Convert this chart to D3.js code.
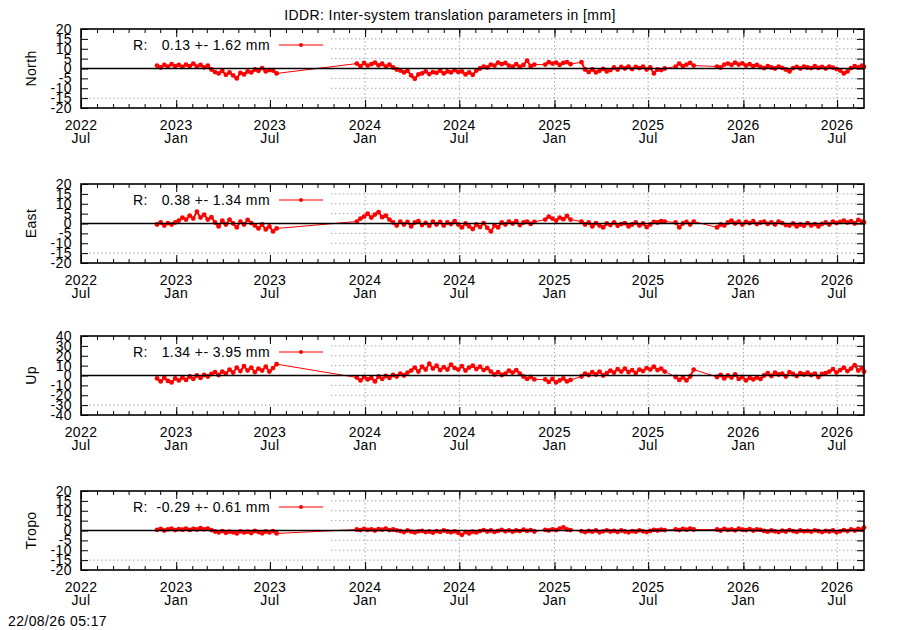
<!DOCTYPE html>
<html>
<head>
<meta charset="utf-8">
<script src="https://cdn.jsdelivr.net/npm/d3@7"></script>
<style>
body{margin:0;background:#fff}
svg{display:block;font-family:"Liberation Sans",Arial,sans-serif}
.tick text{font-size:14px;fill:#000;letter-spacing:0.4px;font-family:"Liberation Sans",Arial,sans-serif}
.tick line{stroke:#000;stroke-width:1}
.lbl{font-size:14px;fill:#000;letter-spacing:0.4px}
.grid{stroke:#a8a8a8;stroke-width:1;stroke-dasharray:1.5,2.5}
</style>
</head>
<body>
<svg width="900" height="630"></svg>
<script>
/* ----------------------------------------------------------
data
---------------------------------------------------------- */
var xStart = "2022-07-01", xEnd = "2026-08-22";
var panelNames = ["North","East","Up","Tropo"];
var yLimits = [20,20,40,20];
var ySteps = [5,5,10,5];
var means = [0.13,0.38,1.34,-0.29];
var sigmas = [1.62,1.34,3.95,0.61];
var titleText = "IDDR: Inter-system translation parameters in [mm]";
var stampText = "22/08/26 05:17";

var dates = [
	"2022-11-25","2022-12-02","2022-12-09","2022-12-16","2022-12-23","2022-12-30",
	"2023-01-06","2023-01-13","2023-01-20","2023-01-27","2023-02-03","2023-02-10","2023-02-17","2023-02-24",
	"2023-03-03","2023-03-10","2023-03-17","2023-03-24","2023-03-31","2023-04-07","2023-04-14","2023-04-21","2023-04-28",
	"2023-05-05","2023-05-12","2023-05-19","2023-05-26","2023-06-02","2023-06-09","2023-06-16","2023-06-23","2023-06-30",
	"2023-07-07","2023-07-14",
	"2023-12-16","2023-12-23","2023-12-30",
	"2024-01-06","2024-01-13","2024-01-20","2024-01-27","2024-02-03","2024-02-10","2024-02-17","2024-02-24",
	"2024-03-02","2024-03-09","2024-03-16","2024-03-23","2024-03-30","2024-04-06","2024-04-13","2024-04-20","2024-04-27",
	"2024-05-04","2024-05-11","2024-05-18","2024-05-25","2024-06-01","2024-06-08","2024-06-15","2024-06-22","2024-06-29",
	"2024-07-06","2024-07-13","2024-07-20","2024-07-27","2024-08-03","2024-08-10","2024-08-17","2024-08-24","2024-08-31",
	"2024-09-07","2024-09-14","2024-09-21","2024-09-28","2024-10-05","2024-10-12","2024-10-19","2024-10-26",
	"2024-11-02","2024-11-09","2024-11-16","2024-11-23","2024-12-14","2024-12-21","2024-12-28",
	"2025-01-04","2025-01-11","2025-01-18","2025-01-25","2025-02-01","2025-02-22",
	"2025-03-01","2025-03-08","2025-03-15","2025-03-22","2025-03-29","2025-04-05","2025-04-12","2025-04-19","2025-04-26",
	"2025-05-03","2025-05-10","2025-05-17","2025-05-24","2025-05-31","2025-06-07","2025-06-14","2025-06-21","2025-06-28",
	"2025-07-05","2025-07-12","2025-07-19","2025-07-26","2025-08-02",
	"2025-08-23","2025-08-30","2025-09-06","2025-09-13","2025-09-20","2025-09-27",
	"2025-11-11","2025-11-18","2025-11-25","2025-12-02","2025-12-09","2025-12-16","2025-12-23","2025-12-30",
	"2026-01-06","2026-01-13","2026-01-20","2026-01-27","2026-02-03","2026-02-10","2026-02-17","2026-02-24",
	"2026-03-03","2026-03-10","2026-03-17","2026-03-24","2026-03-31","2026-04-07","2026-04-14","2026-04-21","2026-04-28",
	"2026-05-05","2026-05-12","2026-05-19","2026-05-26","2026-06-02","2026-06-09","2026-06-16","2026-06-23","2026-06-30",
	"2026-07-07","2026-07-14","2026-07-21","2026-07-28","2026-08-04","2026-08-11","2026-08-18","2026-08-22"
];

var north = [
	1.5,0.5,1.8,1.0,2.2,1.2,1.8,0.8,2.0,1.2,2.5,1.0,1.8,0.6,1.5,-0.5,-1.8,-2.5,-1.2,-3.2,
	-2.0,-3.5,-5.0,-2.2,-3.0,-1.5,-2.0,-0.5,-1.2,0.2,-1.5,-0.8,-1.0,-2.5,
	2.5,1.2,2.8,1.5,2.2,3.0,1.6,2.4,1.0,2.0,
	0.5,-0.5,-1.0,-2.0,-1.2,-3.5,-5.2,-3.0,
	-2.5,-1.5,-2.8,-1.8,-2.2,-1.0,-2.5,-1.5,-2.0,-0.8,-1.8,
	-1.5,-3.0,-2.0,-3.2,-1.0,
	0.0,1.0,0.5,2.0,1.5,3.0,2.2,2.8,1.5,
	1.0,2.2,0.8,1.8,4.0,1.2,2.0,
	2.0,3.2,2.5,3.0,1.8,2.8,3.2,2.2,3.2,
	-0.5,-1.8,-0.5,-2.0,-1.2,-0.2,-1.5,-0.8,
	0.5,-0.5,0.8,0.0,1.0,-0.3,0.8,0.2,1.0,-0.5,0.5,-2.5,-0.5,-0.8,0.0,
	1.0,2.5,1.2,2.0,2.8,1.5,
	1.0,0.5,2.0,2.5,1.8,3.0,2.0,2.6,1.5,2.2,1.2,1.8,
	0.8,0.2,1.2,0.5,0.0,1.0,0.3,-0.5,-1.5,0.2,0.8,0.0,1.0,0.5,0.2,1.2,0.3,0.8,0.0,1.0,0.4,-0.3,
	-1.0,-2.5,-1.5,0.2,1.2,0.5,1.5,0.8
];

var east = [
	-0.5,0.5,-1.0,0.2,-0.5,0.5,1.5,3.0,2.0,4.0,2.5,6.0,3.0,4.5,2.0,3.2,
	0.5,-1.5,1.5,-0.5,2.0,0.0,-2.0,1.0,-0.5,1.8,0.2,-1.0,-2.5,-0.5,-3.0,-1.5,-4.0,-2.5,
	1.0,2.5,3.5,5.0,3.0,4.5,5.8,3.2,4.0,2.0,
	0.5,-1.0,1.0,-0.5,0.8,-1.5,0.5,1.2,-0.8,0.3,-1.2,1.0,-0.5,0.8,-1.0,0.5,-0.3,1.2,
	-0.5,-2.0,0.0,-1.5,-2.8,-0.5,-1.8,0.2,-2.2,-4.0,-1.0,-2.0,
	0.5,-0.5,1.0,0.0,1.2,-0.8,0.5,1.0,-0.2,0.8,
	2.0,3.5,2.5,1.5,3.0,2.2,3.8,2.0,1.0,
	-0.5,0.5,-1.5,0.2,-1.0,-2.0,0.0,-0.8,0.5,-1.2,-0.3,0.2,-1.5,-0.5,0.5,-1.0,0.0,-1.8,-0.5,0.8,0.5,
	1.2,1.0,
	0.5,-2.0,0.0,0.8,-0.5,1.0,
	-2.0,-0.5,-1.0,
	0.5,1.5,0.0,1.0,-0.5,0.8,0.2,1.2,-0.3,0.5,1.0,-0.2,0.6,-0.5,1.0,0.2,-0.8,
	-1.0,0.0,-1.5,-0.5,-1.2,0.2,-1.0,-0.3,-1.5,-0.2,
	0.5,-0.5,1.0,0.2,0.8,1.5,0.5,1.2,0.0,1.8,1.0,0.5
];

var up = [
	-3.0,-6.0,-2.5,-5.5,-7.0,-3.0,-5.0,-2.0,-4.5,-1.0,-3.5,0.0,-2.5,0.5,-1.0,
	1.5,3.5,0.5,4.0,2.0,6.0,3.0,8.0,4.5,9.5,5.0,8.0,3.5,7.0,5.0,9.0,4.0,7.5,11.5,
	-2.0,-5.0,-1.5,-4.0,-2.5,-6.0,-1.0,-3.5,-0.5,-2.5,
	0.5,-1.0,2.0,0.0,3.0,
	5.0,8.0,4.0,9.0,6.0,12.0,7.0,10.0,5.5,8.5,6.0,11.0,7.5,
	6.0,9.5,5.0,8.0,10.0,6.5,9.0,5.5,7.5,
	4.0,1.0,3.5,0.5,2.0,5.0,3.0,5.5,2.0,
	-1.0,-3.5,-1.5,-4.0,
	-4.0,-6.5,-3.5,-7.0,-5.0,-3.0,-6.0,-4.5,
	-1.0,2.0,0.5,3.5,1.0,4.0,0.0,2.5,5.0,
	3.0,6.5,4.0,7.0,3.5,5.5,2.5,6.0,4.5,7.5,
	6.0,9.0,5.5,7.0,4.0,
	-1.5,-4.5,-2.0,-5.0,-1.0,6.0,
	-1.5,0.5,-3.0,0.0,-2.0,1.0,-3.5,-1.5,-5.0,-2.5,-4.0,-2.0,-3.5,
	0.0,2.5,-0.5,3.0,1.0,2.0,-1.0,3.5,1.5,-0.5,2.5,1.0,3.0,0.5,2.0,-1.5,1.5,2.5,
	4.0,6.5,3.0,5.5,8.0,4.5,7.0,10.5,5.0,7.5,4.0
];

var tropo = [
	0.3,0.8,0.0,0.6,1.0,0.2,0.7,0.4,1.0,0.3,0.8,0.5,1.2,0.6,0.9,0.2,
	-0.5,-1.0,-0.3,-1.2,-0.6,-0.9,-1.5,-0.4,-1.0,-0.6,-1.3,-0.2,-0.8,-1.4,-0.5,-1.0,-0.3,-1.5,
	0.5,0.2,0.8,0.3,0.6,0.0,0.7,0.4,0.9,0.2,0.5,0.1,
	-0.3,-0.8,0.0,-0.6,-1.0,-0.4,-0.2,-0.8,-0.5,-1.1,-0.3,-0.7,0.0,-0.5,-0.9,-0.4,
	-1.2,-2.2,-0.8,-1.5,-0.6,-1.0,
	-0.3,0.2,-0.5,0.0,-0.7,-0.2,0.3,-0.4,0.1,-0.6,0.0,-0.3,0.4,-0.2,0.2,-0.5,
	0.3,0.0,0.6,0.2,1.0,1.6,0.5,0.2,
	-0.3,-0.8,-0.2,-0.6,0.0,-0.9,-0.4,0.1,-0.5,
	-0.2,-0.7,0.0,-0.5,-0.9,-0.3,-0.6,0.1,-0.4,-0.8,-0.2,0.3,0.0,
	0.4,0.2,
	0.6,0.2,0.8,0.4,1.0,0.5,
	0.5,0.0,0.8,0.3,0.6,0.1,0.9,0.4,0.2,0.7,0.0,0.5,0.3,
	-0.2,-0.6,0.0,-0.4,-0.8,-0.1,-0.5,0.2,-0.3,-0.7,0.0,-0.4,-0.2,-0.6,0.1,-0.3,-0.8,-0.2,-0.5,0.0,-0.9,-0.4,
	0.2,-0.3,0.6,0.0,0.8,0.4,1.5
];
var series = [north, east, up, tropo];

/* ----------------------------------------------------------
setting
---------------------------------------------------------- */
var left = 81, right = 864;
var panelTop = [29,184,336,491];
var panelH = 79;
var keyRight = 331, keyH = 65;
var gapDays = 14; // longer steps are data gaps -> thin connecting line

var parseDate = d3.utcParse("%Y-%m-%d");
var locale = d3.formatLocale({decimal:".", thousands:",", grouping:[3], currency:["",""], minus:"-"});
var fmtInt = locale.format("d");
var fmt2 = locale.format(".2f");
var svg = d3.select("svg");

var x = d3.scaleUtc().domain([parseDate(xStart), parseDate(xEnd)]).range([left, right]);
var majorTicks = d3.utcMonth.every(6).range(x.domain()[0], x.domain()[1]);
var minorTicks = d3.utcMonth.range(x.domain()[0], x.domain()[1]);

svg.append("text").attr("x",450).attr("y",20).attr("class","lbl")
	.attr("text-anchor","middle").text(titleText);
svg.append("text").attr("x",8).attr("y",626).attr("class","lbl").text(stampText);

/* ----------------------------------------------------------
panels
---------------------------------------------------------- */
panelNames.forEach(function(name, i){
	var top = panelTop[i], bottom = top + panelH;
	var lim = yLimits[i], step = ySteps[i];
	var y = d3.scaleLinear().domain([-lim, lim]).range([bottom, top]);
	var yTicks = d3.range(-lim, lim + step/2, step);
	var g = svg.append("g");

	//grid
	g.selectAll(".hgrid").data(yTicks.filter(function(v){ return v != 0 && Math.abs(v) != lim; }))
		.enter().append("line").attr("class","grid")
		.attr("x1", function(v){ return y(v) < top + keyH ? keyRight : left; })
		.attr("x2", right)
		.attr("y1", function(v){ return y(v); }).attr("y2", function(v){ return y(v); });
	g.selectAll(".vgrid").data(majorTicks.filter(function(d){ return x(d) > keyRight; }))
		.enter().append("line").attr("class","grid")
		.attr("x1", function(d){ return x(d); }).attr("x2", function(d){ return x(d); })
		.attr("y1", top).attr("y2", bottom);

	//ticks
	function noDomain(s){ s.select(".domain").remove(); }
	g.append("g").attr("transform","translate(0,"+bottom+")")
		.call(d3.axisBottom(x).tickValues(minorTicks).tickSize(-4).tickFormat("")).call(noDomain);
	g.append("g").attr("transform","translate(0,"+bottom+")")
		.call(d3.axisBottom(x).tickValues(majorTicks).tickSize(-8).tickFormat("")).call(noDomain);
	g.append("g").attr("transform","translate(0,"+top+")")
		.call(d3.axisTop(x).tickValues(minorTicks).tickSize(-4).tickFormat("")).call(noDomain);
	g.append("g").attr("transform","translate(0,"+top+")")
		.call(d3.axisTop(x).tickValues(majorTicks).tickSize(-8).tickFormat("")).call(noDomain);
	g.append("g").attr("transform","translate("+left+",0)")
		.call(d3.axisLeft(y).tickValues(yTicks).tickSize(-7).tickPadding(9).tickFormat(fmtInt)).call(noDomain);
	g.append("g").attr("transform","translate("+right+",0)")
		.call(d3.axisRight(y).tickValues(yTicks).tickSize(-7).tickFormat("")).call(noDomain);

	//date labels
	var xl = g.selectAll(".xlab").data(majorTicks).enter().append("text")
		.attr("class","lbl").attr("text-anchor","middle");
	xl.append("tspan").attr("x", function(d){ return x(d); }).attr("y", bottom + 22)
		.text(d3.utcFormat("%Y"));
	xl.append("tspan").attr("x", function(d){ return x(d); }).attr("y", bottom + 35)
		.text(d3.utcFormat("%b"));

	//axis name
	g.append("text").attr("class","lbl").attr("text-anchor","middle")
		.attr("transform","translate(36,"+((top+bottom)/2)+") rotate(-90)").text(name);

	//data
	var pts = dates.map(function(d, k){ return {date: parseDate(d), v: series[i][k]}; });
	var pairs = d3.pairs(pts);
	g.selectAll(".seg").data(pairs).enter().append("line")
		.attr("x1", function(p){ return x(p[0].date); }).attr("y1", function(p){ return y(p[0].v); })
		.attr("x2", function(p){ return x(p[1].date); }).attr("y2", function(p){ return y(p[1].v); })
		.attr("stroke","#f00")
		.attr("stroke-width", function(p){ return (p[1].date - p[0].date) / 864e5 > gapDays ? 1 : 2; });
	g.selectAll(".pt").data(pts).enter().append("circle")
		.attr("cx", function(d){ return x(d.date); }).attr("cy", function(d){ return y(d.v); })
		.attr("r", 2.4).attr("fill","#f00");

	//key
	g.append("text").attr("class","lbl").attr("x",133).attr("y",top+21).text("R:");
	g.append("text").attr("class","lbl").attr("x",270).attr("y",top+21).attr("text-anchor","end")
		.text(fmt2(means[i]) + " +- " + fmt2(sigmas[i]) + " mm");
	g.append("line").attr("x1",279).attr("x2",323).attr("y1",top+16).attr("y2",top+16)
		.attr("stroke","#f00").attr("stroke-width",1.2);
	g.append("circle").attr("cx",301).attr("cy",top+16).attr("r",2).attr("fill","#f00");

	//zero axis + border
	g.append("line").attr("x1",left).attr("x2",right).attr("y1",y(0)).attr("y2",y(0))
		.attr("stroke","#000").attr("stroke-width",1.5);
	g.append("rect").attr("x",left).attr("y",top).attr("width",right-left).attr("height",panelH)
		.attr("fill","none").attr("stroke","#000").attr("stroke-width",1.6);
});
</script>
</body>
</html>
